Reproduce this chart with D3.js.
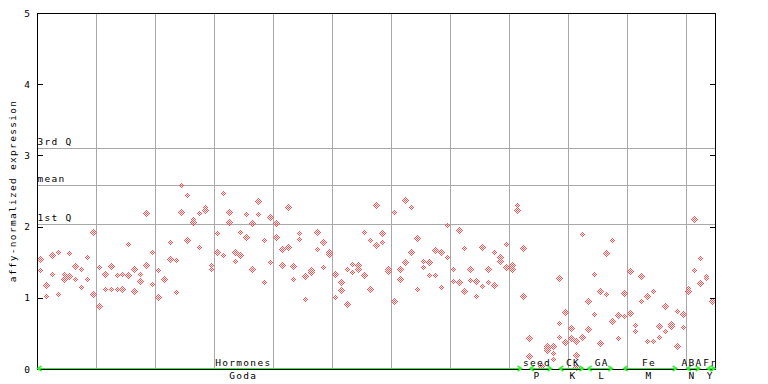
<!DOCTYPE html>
<html><head><meta charset="utf-8">
<script src="https://cdn.jsdelivr.net/npm/d3@7"></script>
<style>body{margin:0;background:#fff}svg{display:block}</style>
</head><body><svg id="c" width="768" height="384"></svg>
<script>
// expression values per sample position (replicates)
const expr = [
 [1.55,1.39],[1.18,1.02],[1.60,1.34],[1.64,1.06],[1.34,1.26],[1.63,1.30],[1.44,1.27],[1.41,1.15],[1.57,1.26],[1.92,1.06],
 [1.43,0.88],[1.33,1.12],[1.44,1.12],[1.32,1.13],[1.34,1.12],[1.75,1.32],[1.41,1.09],[1.33,1.23],[2.19,1.46],[1.64,1.20],
 [1.39,1.01],[1.26,1.25],[1.79,1.55],[1.53,1.08],[2.58,2.20],[2.45,1.81],[2.10,2.07],[2.19,1.72],[2.27,2.24],[1.46,1.40],
 [1.91,1.65],[2.47,1.60],[2.20,2.07],[1.65,1.51],[1.93,1.60],[2.17,1.85],[2.05,1.41],[2.36,2.17],[1.81,1.22],[2.14,1.50],
 [2.05,1.85],[1.68,1.46],[2.27,1.71],[1.44,1.26],[1.91,1.82],[1.30,0.99],[1.39,1.36],[1.92,1.68],[1.79,1.43],[1.64,1.61],
 [1.33,1.01],[1.22,1.11],[1.41,0.91],[1.47,1.36],[1.46,1.40],[1.92,1.32],[1.81,1.13],[2.31,1.74],[1.91,1.79],[1.40,1.37],
 [2.20,0.95],[1.40,1.26],[2.37,1.50],[2.27,1.65],[1.84,1.12],[1.51,1.43],[1.50,1.32],[1.67,1.32],[1.64,1.15],[2.02,1.57],
 [1.41,1.23],[1.95,1.22],[1.70,1.09],[1.40,1.25],[1.23,1.02],[1.72,1.16],[1.41,1.22],[1.65,1.18],[1.57,1.51],[1.75,1.43],
 [1.46,1.40],[2.30,2.24],[1.70,1.02],[0.43,0.18],[],[0.04],[0.32,0.30,0.26],[0.32,0.22,0.14],[1.28,0.65,0.45],[0.80,0.39,0.38],
 [0.58,0.43,0.42],[0.39,0.19,0.03],[1.90,0.45],[0.96,0.56],[1.33,0.77],[1.10,0.37],[1.63,1.05],[1.81,0.67],[0.76,0.44],[1.07,0.74],
 [1.38,0.79],[0.62,0.53],[1.31,0.96],[1.03,0.39],[1.10,0.39],[0.60,0.45],[0.88,0.53],[0.63,0.61],[0.81,0.32],[0.77,0.59],
 [1.14,1.10],[2.11,1.39],[1.56,1.21],[1.31,1.28],[0.95,0.94]
];
const yTicks = [0,1,2,3,4,5];
const refNames = ["3rd Q","mean","1st Q"];
const refValues = [3.10,2.58,2.04];
const groupTop = ["Hormones","seed","CK","GA","Fe","ABA","Fr"];
const groupBottom = ["Goda","P","K","L","M","N","Y"];
const groupStart = [0.1,83.6,88.6,93.4,99.5,110.2,113.7];
const groupEnd   = [82.2,87.3,92.7,97.6,108.5,112.4,115];
const groupLabelAt = [35,84.8,90.9,95.8,103.8,111.1,114.2];
const yTitle = "affy-normalized expression";

const red = "#ff5252", grid = "#a8a8a8", green = "#33ee33";
const font = "'DejaVu Sans Mono', monospace";
const svg = d3.select("#c");
const x = d3.scaleLinear().domain([0,115]).range([37,715]);
const y = d3.scaleLinear().domain([0,5]).range([369,13]);
const px = v => Math.round(v) + 0.5;

const defs = svg.append("defs");
const pat = defs.append("pattern").attr("id","chk").attr("width",2).attr("height",2)
  .attr("patternUnits","userSpaceOnUse");
pat.append("rect").attr("x",0).attr("y",0).attr("width",1).attr("height",1).attr("fill",red);
pat.append("rect").attr("x",1).attr("y",1).attr("width",1).attr("height",1).attr("fill",red);

// vertical grid
svg.append("g").selectAll("line").data(d3.range(10,115,10)).join("line")
  .attr("x1",d=>px(x(d))).attr("x2",d=>px(x(d))).attr("y1",13).attr("y2",369)
  .attr("stroke",grid).attr("stroke-width",1).attr("shape-rendering","crispEdges");
// reference lines
svg.append("g").selectAll("line").data(refValues).join("line")
  .attr("x1",37).attr("x2",715).attr("y1",d=>px(y(d))).attr("y2",d=>px(y(d)))
  .attr("stroke",grid).attr("stroke-width",1).attr("shape-rendering","crispEdges");
svg.append("g").selectAll("text").data(refValues).join("text")
  .attr("x",37.5).attr("y",d=>Math.round(y(d))-3)
  .attr("font-family",font).attr("font-size",9.5).attr("letter-spacing",1.3).attr("fill","#000")
  .text((d,i)=>refNames[i]);

// points
const pts = [];
expr.forEach((vals,i)=>vals.forEach(v=>pts.push({i,v})));
svg.append("g").selectAll("path").data(pts).join("path")
  .attr("d",d=>{const cx=Math.round(x(d.i+0.5)), cy=Math.round(y(d.v));
    return `M${cx+0.5},${cy-3}L${cx+4},${cy+0.5}L${cx+0.5},${cy+4}L${cx-3},${cy+0.5}Z`;})
  .attr("fill","url(#chk)").attr("shape-rendering","crispEdges");

// frame
const frame = svg.append("g").attr("stroke","#000").attr("stroke-width",1).attr("shape-rendering","crispEdges");
frame.append("line").attr("x1",37).attr("x2",716).attr("y1",13.5).attr("y2",13.5);
frame.append("line").attr("x1",37.5).attr("x2",37.5).attr("y1",13).attr("y2",370);
frame.append("line").attr("x1",715.5).attr("x2",715.5).attr("y1",13).attr("y2",370);
frame.append("line").attr("x1",37).attr("x2",716).attr("y1",369.5).attr("y2",369.5);
frame.selectAll(".tl").data(yTicks).join("line").attr("class","tl")
  .attr("x1",37).attr("x2",43).attr("y1",d=>px(y(d))).attr("y2",d=>px(y(d)));
frame.selectAll(".tr").data(yTicks).join("line").attr("class","tr")
  .attr("x1",710).attr("x2",715).attr("y1",d=>px(y(d))).attr("y2",d=>px(y(d)));
svg.append("g").selectAll("text").data(yTicks).join("text")
  .attr("x",30).attr("y",d=>y(d)+3.5).attr("text-anchor","end")
  .attr("font-family",font).attr("font-size",9.5).attr("fill","#000").text(d=>d);

// y title
svg.append("text").attr("transform","translate(15.5,191) rotate(-90)").attr("text-anchor","middle")
  .attr("font-family",font).attr("font-size",9.5).attr("letter-spacing",1.3).attr("fill","#000").text(yTitle);

// group arrows
const ga = svg.append("g").attr("stroke",green).attr("fill","none").attr("stroke-width",1);
groupTop.forEach((g,k)=>{
  const s = x(groupStart[k]), e = x(groupEnd[k]), yy = 368.5;
  ga.append("line").attr("x1",s).attr("x2",e).attr("y1",yy).attr("y2",yy)
    .attr("stroke-width",1.5).attr("shape-rendering","crispEdges");
  ga.append("path").attr("d",`M${s+4},${yy-2.5}L${s},${yy}L${s+4},${yy+2.5}`).attr("stroke-width",1.5);
  ga.append("path").attr("d",`M${e-4},${yy-2.5}L${e},${yy}L${e-4},${yy+2.5}`).attr("stroke-width",1.5);
});
svg.append("g").selectAll("text").data(groupTop).join("text")
  .attr("x",(d,k)=>x(groupLabelAt[k])).attr("y",365.5).attr("text-anchor","middle")
  .attr("font-family",font).attr("font-size",9.5).attr("letter-spacing",1.3).attr("fill","#000").text(d=>d);
svg.append("g").selectAll("text").data(groupBottom).join("text")
  .attr("x",(d,k)=>x(groupLabelAt[k])).attr("y",379).attr("text-anchor","middle")
  .attr("font-family",font).attr("font-size",9.5).attr("letter-spacing",1.3).attr("fill","#000").text(d=>d);
</script></body></html>
